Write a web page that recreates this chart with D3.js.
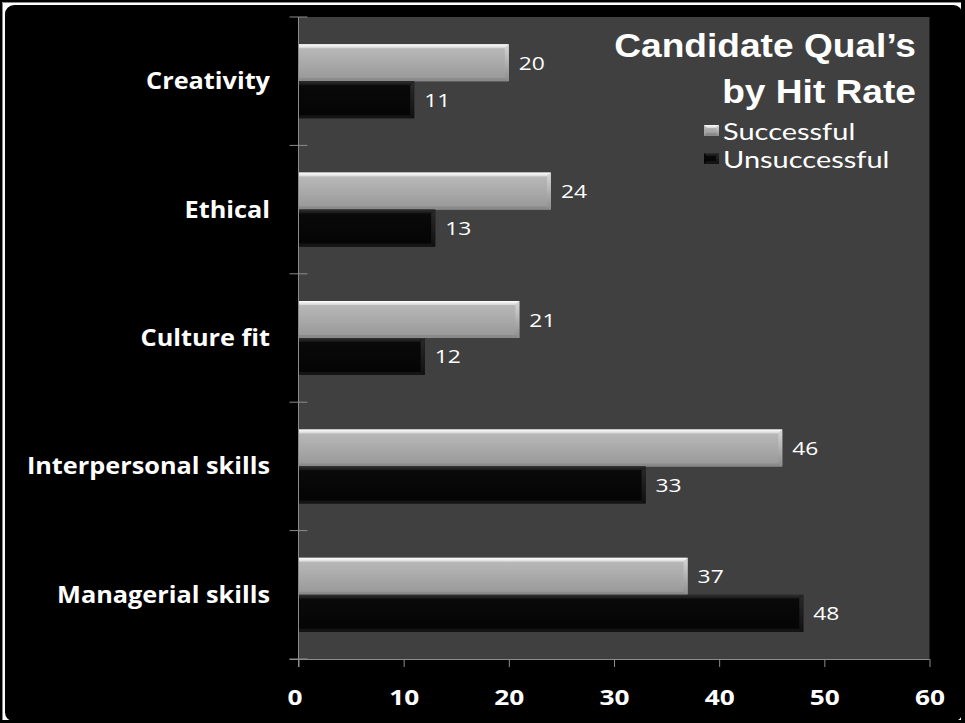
<!DOCTYPE html>
<html>
<head>
<meta charset="utf-8">
<script src="https://cdn.jsdelivr.net/npm/d3@7"></script>
<style>
  html, body { margin: 0; padding: 0; background: #000; }
  svg { display: block; }
</style>
</head>
<body>
<svg id="chart" width="965" height="723"></svg>
<script>
// ---- data ----
const categories = ["Creativity", "Ethical", "Culture fit", "Interpersonal skills", "Managerial skills"];
const seriesNames = ["Successful", "Unsuccessful"];
const successful = [20, 24, 21, 46, 37];
const unsuccessful = [11, 13, 12, 33, 48];
const xTickValues = [0, 10, 20, 30, 40, 50, 60];
const titleLines = ["Candidate Qual\u2019s", "by Hit Rate"];

// ---- layout ----
const W = 965, H = 723;
const plot = { left: 298.5, right: 929.5, top: 17, bottom: 659 };

const svg = d3.select("#chart");
const defs = svg.append("defs");

function vGrad(id, stops) {
  const g = defs.append("linearGradient").attr("id", id)
    .attr("x1", 0).attr("y1", 0).attr("x2", 0).attr("y2", 1);
  stops.forEach(([o, c]) => g.append("stop").attr("offset", o).attr("stop-color", c));
}
// bar faces and bevel edges
vGrad("succBody", [[0, "#bcbcbc"], [1, "#979797"]]);
vGrad("succTop", [[0, "#ffffff"], [1, "#d4d4d4"]]);
vGrad("succRight", [[0, "#d8d8d8"], [1, "#8c8c8c"]]);
vGrad("unsBody", [[0, "#0a0a0a"], [1, "#040404"]]);
vGrad("unsTop", [[0, "#303030"], [1, "#141414"]]);
vGrad("unsRight", [[0, "#2a2a2a"], [1, "#101010"]]);

const styles = {
  Successful: { body: "url(#succBody)", top: "url(#succTop)", right: "url(#succRight)", bottom: "#8a8a8a" },
  Unsuccessful: { body: "url(#unsBody)", top: "url(#unsTop)", right: "url(#unsRight)", bottom: "#141414" }
};

// ---- frame: light edge on the left and top, rounded black card ----
svg.append("rect").attr("x", 0).attr("y", 0).attr("width", W).attr("height", H).attr("fill", "#000");
svg.append("rect").attr("x", 2).attr("y", 2).attr("width", 959).attr("height", 718).attr("fill", "#ffffff");
svg.append("path").attr("d", "M2.5,720V2.5H961").attr("fill", "none").attr("stroke", "#8a8a8a");
svg.append("rect").attr("x", 5).attr("y", 5).attr("width", 957.5).attr("height", 716.5)
  .attr("rx", 9).attr("ry", 9).attr("fill", "#000");

// ---- scales ----
const x = d3.scaleLinear().domain([0, 60]).range([plot.left, plot.right]);
const y = d3.scaleBand().domain(categories).range([plot.top, plot.bottom])
  .paddingInner(0.424).paddingOuter(0.212);
const ySub = d3.scaleBand().domain(seriesNames).range([0, y.bandwidth()]);

// plot area background
svg.append("rect")
  .attr("x", plot.left).attr("y", plot.top)
  .attr("width", plot.right - plot.left).attr("height", plot.bottom - plot.top)
  .attr("fill", "#404040");

// ---- bars ----
const rows = categories.map((c, i) => ({ category: c, values: [
  { series: "Successful", value: successful[i] },
  { series: "Unsuccessful", value: unsuccessful[i] }
]}));

const b = 4; // bevel width
const groups = svg.append("g").selectAll("g.cat").data(rows).join("g")
  .attr("class", "cat")
  .attr("transform", d => `translate(0,${y(d.category)})`);

const bars = groups.selectAll("g.bar").data(d => d.values).join("g").attr("class", "bar");
bars.each(function (d) {
  const g = d3.select(this);
  const s = styles[d.series];
  const x0 = x(0), x1 = x(d.value);
  const y0 = ySub(d.series), y1 = y0 + ySub.bandwidth();
  g.append("rect").attr("x", x0).attr("y", y0).attr("width", x1 - x0).attr("height", y1 - y0)
    .attr("fill", s.body);
  g.append("path").attr("fill", s.top)
    .attr("d", `M${x0},${y0}L${x1},${y0}L${x1 - b},${y0 + b}L${x0},${y0 + b}Z`);
  g.append("path").attr("fill", s.bottom)
    .attr("d", `M${x0},${y1}L${x1},${y1}L${x1 - b},${y1 - b + 1}L${x0},${y1 - b + 1}Z`);
  g.append("path").attr("fill", s.right)
    .attr("d", `M${x1},${y0}L${x1},${y1}L${x1 - b},${y1 - b + 1}L${x1 - b},${y0 + b}Z`);
});

// value labels
bars.append("text")
  .attr("transform", d => `translate(${x(d.value) + 10},${ySub(d.series) + ySub.bandwidth() / 2 + 7}) scale(1.2,1)`)
  .attr("font-family", "'Open Sans', sans-serif")
  .attr("font-size", 19)
  .attr("fill", "#ffffff")
  .text(d => d.value);

// ---- axes ----
const axisColor = "#8c8c8c";

// value axis (bottom)
const xAxis = svg.append("g").attr("transform", `translate(0,${plot.bottom})`)
  .call(d3.axisBottom(x).tickValues(xTickValues).tickSize(8).tickSizeOuter(0).tickFormat(d3.format("d")));
xAxis.select(".domain").attr("stroke", axisColor).attr("d", `M${plot.left - 9},0.5H${plot.right}`);
xAxis.selectAll(".tick line").attr("stroke", axisColor);
xAxis.selectAll(".tick text")
  .attr("y", 0).attr("dy", null)
  .attr("transform", d => `translate(${d === 0 ? -4 : 0},46) scale(1.25,1)`)
  .attr("font-family", "'Open Sans', sans-serif")
  .attr("font-weight", "bold")
  .attr("font-size", 21)
  .attr("fill", "#ffffff");

// category axis (left) with ticks crossing the axis line between categories
const catAxis = svg.append("g");
catAxis.append("line")
  .attr("x1", plot.left).attr("x2", plot.left)
  .attr("y1", plot.top).attr("y2", plot.bottom + 8)
  .attr("stroke", axisColor);
const boundaries = d3.range(categories.length + 1).map(i => plot.top + i * y.step());
catAxis.selectAll("line.tick").data(boundaries).join("line").attr("class", "tick")
  .attr("x1", plot.left - 9).attr("x2", plot.left + 9)
  .attr("y1", d => d).attr("y2", d => d)
  .attr("stroke", axisColor);

catAxis.selectAll("text").data(categories).join("text")
  .attr("transform", d => `translate(270,${y(d) + y.bandwidth() / 2 + 8}) scale(1.1,1)`)
  .attr("text-anchor", "end")
  .attr("font-family", "'Open Sans', sans-serif")
  .attr("font-weight", "bold")
  .attr("font-size", 23)
  .attr("fill", "#ffffff")
  .text(d => d);

// ---- title ----
svg.append("g").selectAll("text").data(titleLines).join("text")
  .attr("transform", (d, i) => `translate(916,${56.5 + i * 46}) scale(1.125,1)`)
  .attr("text-anchor", "end")
  .attr("font-family", "'Liberation Sans', Arial, sans-serif")
  .attr("font-weight", "bold")
  .attr("font-size", 33)
  .attr("fill", "#ffffff")
  .text(d => d);

// ---- legend ----
const legend = svg.append("g").selectAll("g").data(seriesNames).join("g")
  .attr("transform", (d, i) => `translate(704,${125 + i * 28})`);
legend.each(function (d) {
  const g = d3.select(this);
  const s = styles[d];
  const w = 15, h = 11, lb = 3;
  g.append("rect").attr("width", w).attr("height", h).attr("fill", s.body);
  g.append("path").attr("fill", s.top).attr("d", `M0,0L${w},0L${w - lb},${lb}L${lb},${lb}Z`);
  g.append("path").attr("fill", s.bottom).attr("d", `M0,${h}L${w},${h}L${w - lb},${h - lb}L${lb},${h - lb}Z`);
  g.append("path").attr("fill", s.right).attr("d", `M${w},0L${w},${h}L${w - lb},${h - lb}L${w - lb},${lb}Z`);
});
legend.append("text")
  .attr("transform", "translate(19,15) scale(1.26,1)")
  .attr("font-family", "Lato, sans-serif")
  .attr("font-size", 23)
  .attr("fill", "#ffffff")
  .text(d => d);
</script>
</body>
</html>
